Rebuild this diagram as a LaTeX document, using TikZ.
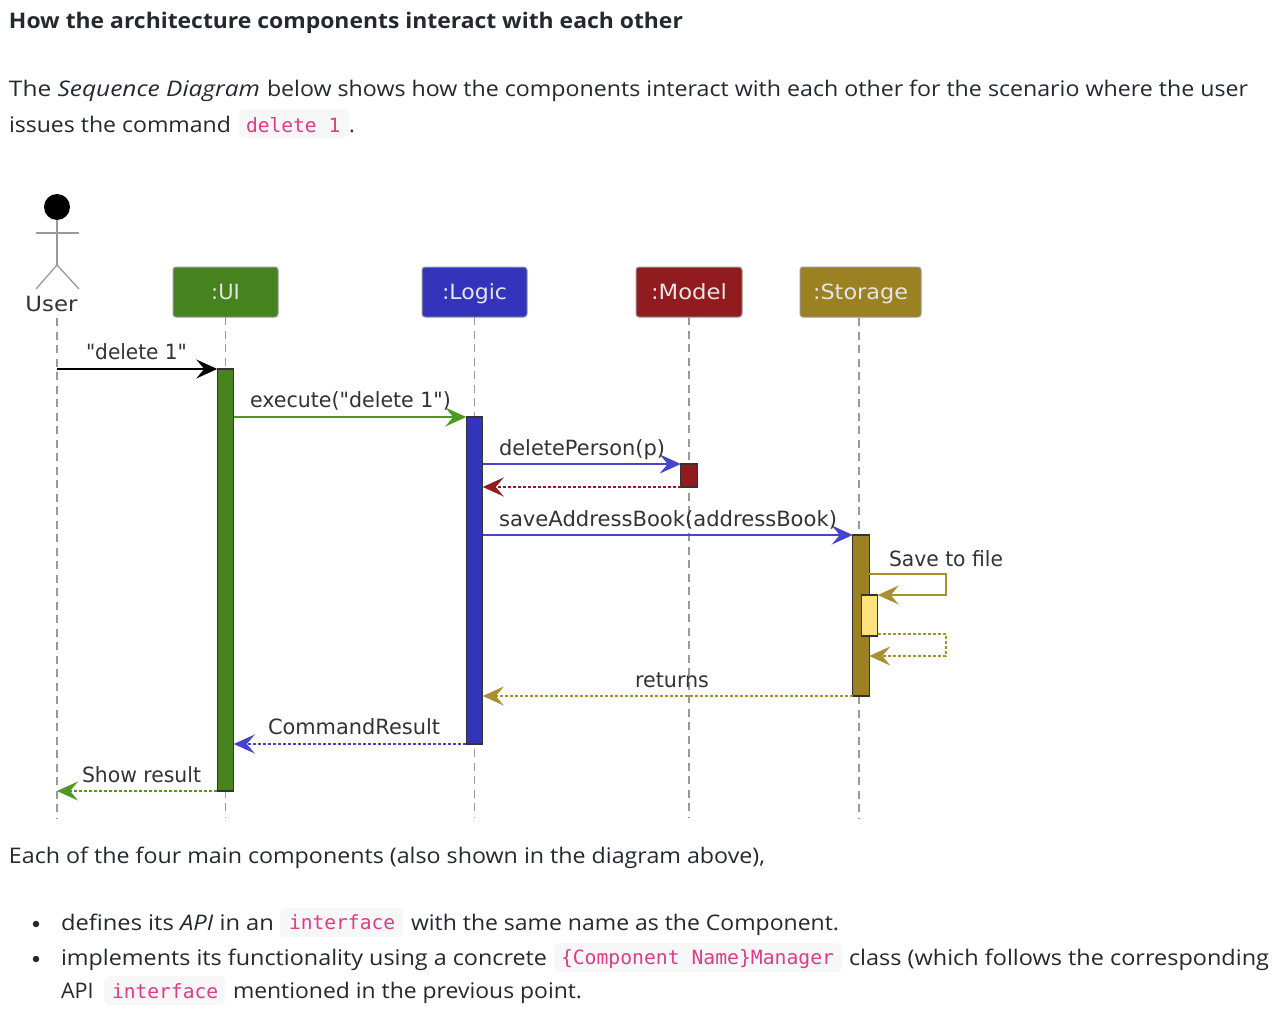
\documentclass[tikz,border=0pt]{standalone}
\usepackage{fontspec}
\usepackage{graphicx}
\setmainfont{Open Sans}
\newfontfamily\dgmfont{DejaVu Sans}
\newfontfamily\codefont{DejaVu Sans Mono}
\usetikzlibrary{arrows.meta}
\definecolor{bodyc}{HTML}{24292E}
\definecolor{dtxt}{HTML}{333333}
\definecolor{codec}{HTML}{DC3D86}
\definecolor{chipc}{HTML}{F7F7F8}
\definecolor{uic}{HTML}{46831F}
\definecolor{logicc}{HTML}{3333BB}
\definecolor{modelc}{HTML}{911B1E}
\definecolor{storc}{HTML}{9C8122}
\definecolor{innerc}{HTML}{FCE37E}
\definecolor{arrblue}{HTML}{4444CC}
\definecolor{arrgreen}{HTML}{4E9A20}
\definecolor{arrgold}{HTML}{A89030}
\definecolor{lifec}{HTML}{999999}
\newcommand{\fitw}[2]{\resizebox{#1pt}{\height}{#2}}
\tikzset{
  body/.style={anchor=base west,inner sep=0,outer sep=0,text=bodyc,font=\fontsize{21.5}{24}\selectfont},
  dlabel/.style={anchor=base west,inner sep=0,outer sep=0,text=dtxt,font=\dgmfont\fontsize{21}{24}\selectfont},
  code/.style={anchor=base west,inner sep=0,outer sep=0,text=codec,font=\codefont\fontsize{19.6}{24}\selectfont},
  chip/.style={fill=chipc,rounded corners=5,draw=none},
  part/.style={draw=lifec,line width=1pt,rounded corners=3,inner sep=0,outer sep=0,minimum height=50,text height=20,text depth=5,text=white!90!black,font=\dgmfont\fontsize{21}{24}\selectfont},
  act/.style={draw=dtxt,line width=1.4pt,inner sep=0,outer sep=0,minimum width=16.5},
  life/.style={draw=lifec,line width=1.3pt,dash pattern=on 8pt off 5.5pt},
  msg/.style={line width=1.2pt,-{Stealth[length=21pt,width=19pt,inset=8pt]}},
  ret/.style={msg,dash pattern=on 3pt off 2pt},
  limb/.style={draw=lifec,line width=1.3pt},
  bulletdot/.style={circle,fill=bodyc,inner sep=0,minimum size=6.5},
}
\begin{document}
\begin{tikzpicture}[x=1pt,y=-1pt]
\useasboundingbox[fill=white] (0,0) rectangle (1282,1014);
% text
\node[body,font=\bfseries\fontsize{21.5}{24}\selectfont] (title) at (9,29) {\fitw{674}{How the architecture components interact with each other}};
\node[body] (p1) at (9,97) {\fitw{251}{The \textit{Sequence Diagram}}};
\node[body] (p1b) at (267,97) {\fitw{981}{below shows how the components interact with each other for the scenario where the user}};
\node[body] (p2) at (9,132) {\fitw{222}{issues the command}};
\filldraw[chip] (239,109) rectangle (349,138);
\node[code] (c1) at (246,132) {delete 1};
\node[body] (p2b) at (349,132) {.};
\node[body] (p3) at (9,863) {\fitw{756}{Each of the four main components (also shown in the diagram above),}};
\node[bulletdot] (b1) at (36,924) {};
\node[bulletdot] (b2) at (36,959) {};
\node[body] (l1a) at (61,930) {\fitw{213}{defines its \textit{API} in an}};
\filldraw[chip] (280,908) rectangle (403,937);
\node[code] (c2) at (289,929.5) {interface};
\node[body] (l1b) at (411,930) {\fitw{428}{with the same name as the Component.}};
\node[body] (l2a) at (61,965) {\fitw{486}{implements its functionality using a concrete}};
\filldraw[chip] (554,943) rectangle (842,972);
\node[code] (c3) at (561,964) {\fitw{273}{\{Component Name\}Manager}};
\node[body] (l2b) at (849,965) {\fitw{420}{class (which follows the corresponding}};
\node[body] (l3a) at (61,998) {API};
\filldraw[chip] (104,976) rectangle (225,1005);
\node[code] (c4) at (112,998.5) {interface};
\node[body] (l3b) at (233,998) {\fitw{349}{mentioned in the previous point.}};
% participants
\node[part,fill=uic,minimum width=105] (ui) at (225.5,292) {:UI};
\node[part,fill=logicc,minimum width=105] (logic) at (474.5,292) {\fitw{65}{:Logic}};
\node[part,fill=modelc,minimum width=106] (model) at (689,292) {\fitw{76}{:Model}};
\node[part,fill=storc,minimum width=121] (storage) at (860.5,292) {\fitw{95}{:Storage}};
% actor
\node[circle,fill=black,inner sep=0,minimum size=26] (head) at (57,207) {};
\coordinate (hip) at (57,265);
\coordinate (armL) at (36,233);
\coordinate (armR) at (79,233);
\coordinate (footL) at (36,289);
\coordinate (footR) at (79,289);
\draw[limb] (head.south) -- (hip);
\draw[limb] (armL) -- (armR);
\draw[limb] (footL) -- (hip) -- (footR);
\node[dlabel,anchor=base] (user) at (51.5,311) {\fitw{52}{User}};
% lifelines
\coordinate (userTop) at (57,318);
\coordinate (userEnd) at (57,818);
\coordinate (uiEnd) at (225.5,818);
\coordinate (logicEnd) at (474.5,818);
\coordinate (modelEnd) at (689,818);
\coordinate (storEnd) at (859,818);
\coordinate (storTop) at (859,318);
\draw[life] (userTop) -- (userEnd);
\draw[life] (ui.south) -- (uiEnd);
\draw[life] (logic.south) -- (logicEnd);
\draw[life] (model.south) -- (modelEnd);
\draw[life] (storTop) -- (storEnd);
% activations
\node[act,fill=uic,minimum height=422] (uiact) at (225.5,580) {};
\node[act,fill=logicc,minimum height=327] (logicact) at (474.5,580.5) {};
\node[act,fill=modelc,minimum height=23] (modelact) at (689,475.5) {};
\node[act,fill=storc,minimum height=161] (storact) at (861,615.5) {};
\node[act,fill=innerc,minimum height=41] (inneract) at (869.5,615.5) {};
% messages
\draw[msg,black] (userTop |- uiact.north) -- (uiact.north west);
\draw[msg,arrgreen] (uiact.east |- logicact.north) -- (logicact.north west);
\draw[msg,arrblue] (logicact.east |- modelact.north) -- (modelact.north west);
\draw[ret,modelc] (modelact.south west) -- (logicact.east |- modelact.south);
\draw[msg,arrblue] (logicact.east |- storact.north) -- (storact.north west);
\coordinate (s1) at (946,574);
\coordinate (s2) at (946,595);
\coordinate (s3) at (946,634);
\coordinate (s4) at (946,656);
\draw[msg,arrgold] (storact.east |- s1) -- (s1) -- (s2) -- (inneract.north east);
\draw[ret,arrgold] (inneract.east |- s3) -- (s3) -- (s4) -- (storact.east |- s4);
\draw[ret,arrgold] (storact.south west) -- (logicact.east |- storact.south);
\draw[ret,arrblue] (logicact.south west) -- (uiact.east |- logicact.south);
\draw[ret,arrgreen] (uiact.south west) -- (userTop |- uiact.south);
% message labels
\node[dlabel] (m1) at (86,359.5) {\fitw{101}{"delete 1"}};
\node[dlabel] (m2) at (250,407.5) {\fitw{201}{execute("delete 1")}};
\node[dlabel] (m3) at (499,455.5) {\fitw{166}{deletePerson(p)}};
\node[dlabel] (m4) at (499,526.5) {\fitw{338}{saveAddressBook(addressBook)}};
\node[dlabel] (m5) at (889,566.5) {\fitw{114}{Save to file}};
\node[dlabel] (m6) at (635,687.5) {\fitw{74}{returns}};
\node[dlabel] (m7) at (268,734.5) {\fitw{172}{CommandResult}};
\node[dlabel] (m8) at (82,782.5) {\fitw{119}{Show result}};
\end{tikzpicture}
\end{document}
